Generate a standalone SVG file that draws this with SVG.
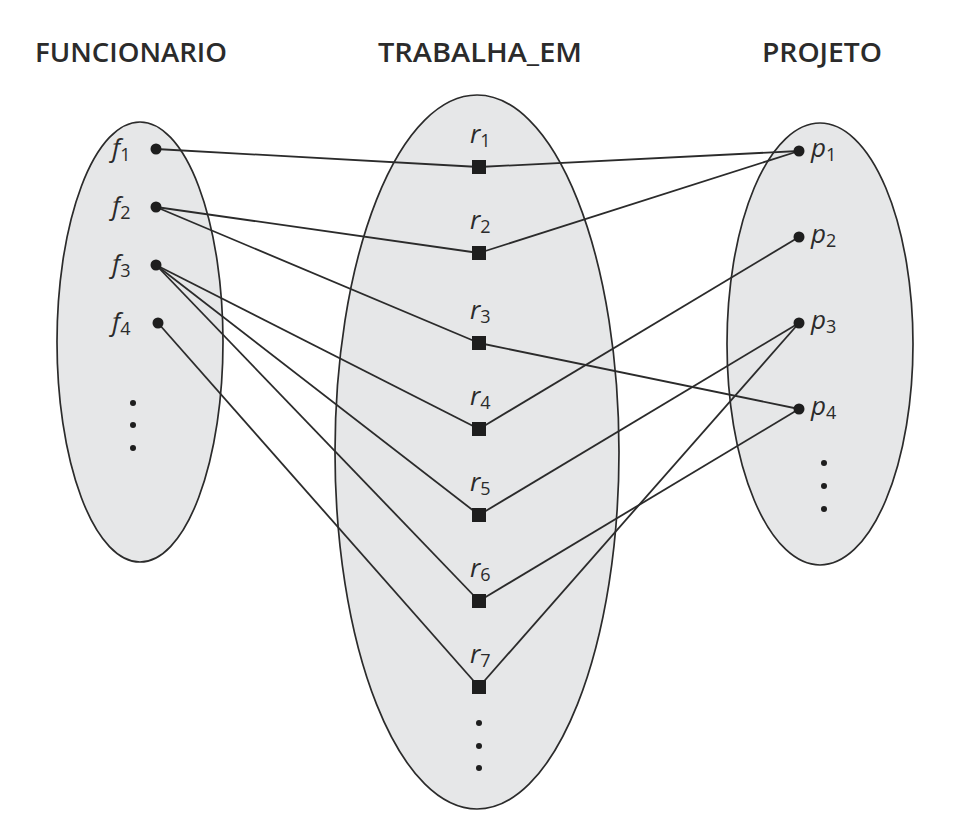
<svg xmlns="http://www.w3.org/2000/svg" width="965" height="826" viewBox="0 0 965 826">
<style>
.set{fill:#e6e7e8;stroke:#2b2b2b;stroke-width:1.7}
.title{font-family:"Open Sans","Liberation Sans",sans-serif;font-weight:600;font-size:27px;fill:#2b2b2b}
.lbl{font-family:"Open Sans","Liberation Sans",sans-serif;font-style:italic;font-size:26px;fill:#2b2b2b}
.sub{font-size:18px;font-style:normal}
.dot{fill:#1e1e1e}
.conn line{stroke:#2b2b2b;stroke-width:1.8}
.sq{fill:#1e1e1e}
</style>
<rect width="965" height="826" fill="#ffffff"/>
<g id="titles">
<text class="title" x="131" y="62" text-anchor="middle" textLength="192" lengthAdjust="spacingAndGlyphs">FUNCIONARIO</text>
<text class="title" x="480" y="62" text-anchor="middle" textLength="204" lengthAdjust="spacingAndGlyphs">TRABALHA_EM</text>
<text class="title" x="822" y="62" text-anchor="middle" textLength="120" lengthAdjust="spacingAndGlyphs">PROJETO</text>
</g>
<g id="FUNCIONARIO">
<ellipse class="set" cx="140" cy="342" rx="83" ry="220"/>
</g>
<g id="TRABALHA_EM">
<ellipse class="set" cx="477" cy="452" rx="142" ry="357"/>
</g>
<g id="PROJETO">
<ellipse class="set" cx="820" cy="344" rx="93" ry="221"/>
</g>
<g id="connectors" class="conn">
<line x1="156" y1="149" x2="479" y2="167"/>
<line x1="479" y1="167" x2="799" y2="151"/>
<line x1="156" y1="207" x2="479" y2="253"/>
<line x1="479" y1="253" x2="799" y2="151"/>
<line x1="156" y1="207" x2="479" y2="343"/>
<line x1="479" y1="343" x2="799" y2="409"/>
<line x1="156" y1="265" x2="479" y2="429"/>
<line x1="479" y1="429" x2="799" y2="237"/>
<line x1="156" y1="265" x2="479" y2="515"/>
<line x1="479" y1="515" x2="799" y2="323"/>
<line x1="156" y1="265" x2="479" y2="601"/>
<line x1="479" y1="601" x2="799" y2="409"/>
<line x1="158" y1="323" x2="479" y2="687"/>
<line x1="479" y1="687" x2="799" y2="323"/>
</g>
<g id="f1"><circle class="dot" cx="156" cy="149" r="5.5"/><text class="lbl" x="112" y="157">f<tspan class="sub" dy="4">1</tspan></text></g>
<g id="f2"><circle class="dot" cx="156" cy="207" r="5.5"/><text class="lbl" x="112" y="215">f<tspan class="sub" dy="4">2</tspan></text></g>
<g id="f3"><circle class="dot" cx="156" cy="265" r="5.5"/><text class="lbl" x="112" y="273">f<tspan class="sub" dy="4">3</tspan></text></g>
<g id="f4"><circle class="dot" cx="158" cy="323" r="5.5"/><text class="lbl" x="112" y="331">f<tspan class="sub" dy="4">4</tspan></text></g>
<g id="f-more"><circle class="dot" cx="133" cy="403" r="3"/><circle class="dot" cx="133" cy="425" r="3"/><circle class="dot" cx="133" cy="448" r="3"/></g>
<g id="r1"><rect class="sq" x="472" y="160" width="14" height="14"/><text class="lbl" x="470" y="143">r<tspan class="sub" dy="4">1</tspan></text></g>
<g id="r2"><rect class="sq" x="472" y="246" width="14" height="14"/><text class="lbl" x="470" y="229">r<tspan class="sub" dy="4">2</tspan></text></g>
<g id="r3"><rect class="sq" x="472" y="336" width="14" height="14"/><text class="lbl" x="470" y="319">r<tspan class="sub" dy="4">3</tspan></text></g>
<g id="r4"><rect class="sq" x="472" y="422" width="14" height="14"/><text class="lbl" x="470" y="405">r<tspan class="sub" dy="4">4</tspan></text></g>
<g id="r5"><rect class="sq" x="472" y="508" width="14" height="14"/><text class="lbl" x="470" y="491">r<tspan class="sub" dy="4">5</tspan></text></g>
<g id="r6"><rect class="sq" x="472" y="594" width="14" height="14"/><text class="lbl" x="470" y="577">r<tspan class="sub" dy="4">6</tspan></text></g>
<g id="r7"><rect class="sq" x="472" y="680" width="14" height="14"/><text class="lbl" x="470" y="663">r<tspan class="sub" dy="4">7</tspan></text></g>
<g id="r-more"><circle class="dot" cx="479" cy="723" r="3"/><circle class="dot" cx="479" cy="746" r="3"/><circle class="dot" cx="479" cy="768" r="3"/></g>
<g id="p1"><circle class="dot" cx="799" cy="151" r="5.5"/><text class="lbl" x="811" y="157">p<tspan class="sub" dy="4">1</tspan></text></g>
<g id="p2"><circle class="dot" cx="799" cy="237" r="5.5"/><text class="lbl" x="811" y="243">p<tspan class="sub" dy="4">2</tspan></text></g>
<g id="p3"><circle class="dot" cx="799" cy="323" r="5.5"/><text class="lbl" x="811" y="329">p<tspan class="sub" dy="4">3</tspan></text></g>
<g id="p4"><circle class="dot" cx="799" cy="409" r="5.5"/><text class="lbl" x="811" y="415">p<tspan class="sub" dy="4">4</tspan></text></g>
<g id="p-more"><circle class="dot" cx="824" cy="463" r="3"/><circle class="dot" cx="824" cy="486" r="3"/><circle class="dot" cx="824" cy="509" r="3"/></g>
</svg>
